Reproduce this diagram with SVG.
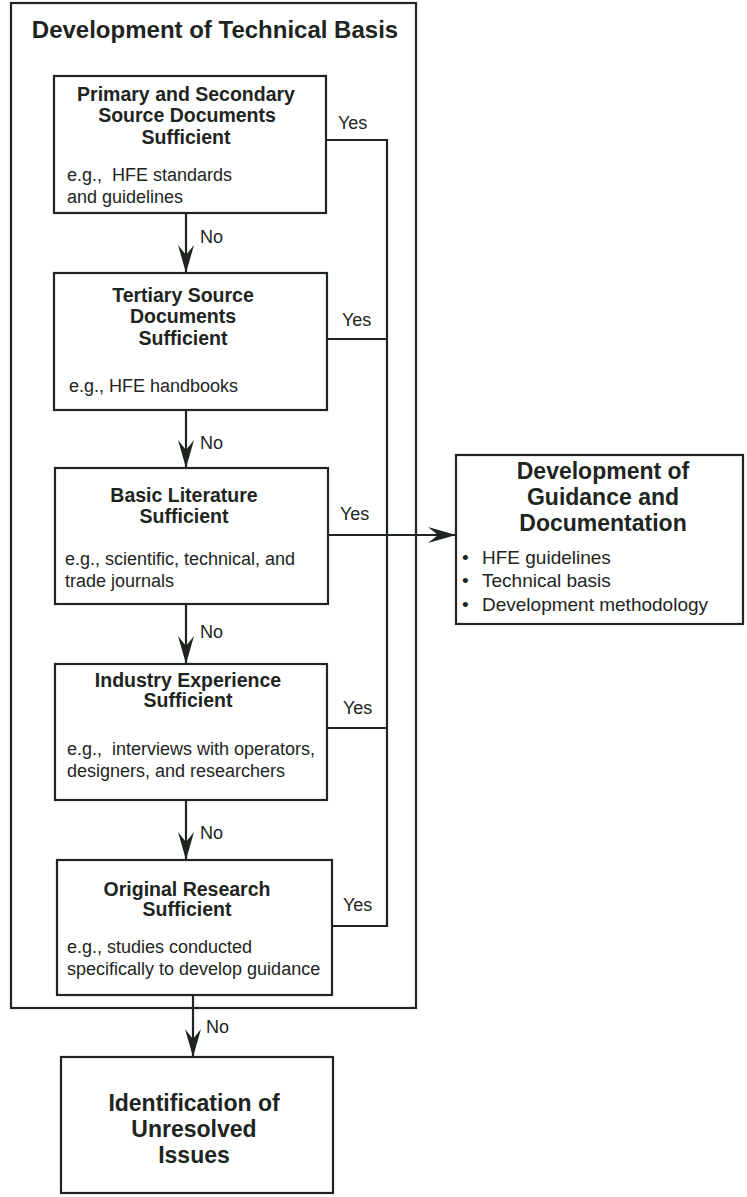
<svg xmlns="http://www.w3.org/2000/svg" width="747" height="1197" viewBox="0 0 747 1197">
<style>
  .box{fill:#fff;stroke:#1e241e;stroke-width:2.2}
  .outer{fill:none;stroke:#1e241e;stroke-width:2.2}
  .ln{fill:none;stroke:#1e241e;stroke-width:2.2}
  text{font-family:"Liberation Sans",Arial,Helvetica,sans-serif;fill:#1e241e}
  .t{font-size:19.5px;font-weight:bold;text-anchor:middle}
  .b{font-size:18px}
  .lbl{font-size:18px}
  .big{font-size:24px;font-weight:bold;text-anchor:middle}
  .big2{font-size:23px;font-weight:bold;text-anchor:middle}
  .bul{font-size:19px}
</style>
<defs>
  <marker id="ah" markerUnits="userSpaceOnUse" markerWidth="32" markerHeight="20" refX="30" refY="10" orient="auto">
    <path d="M30,10 L2,2 L12,10 L2,18 Z" fill="#1e241e"/>
  </marker>
</defs>
<rect id="bg" x="0" y="0" width="747" height="1197" fill="#fff"/>

<g id="technical-basis">
  <rect class="outer" x="11" y="3" width="405" height="1005"/>
  <text class="big" x="215" y="38">Development of Technical Basis</text>
</g>

<g id="connectors">
  <line class="ln" x1="186" y1="213" x2="186" y2="273" marker-end="url(#ah)"/>
  <line class="ln" x1="186" y1="410" x2="186" y2="468" marker-end="url(#ah)"/>
  <line class="ln" x1="186" y1="604" x2="186" y2="664" marker-end="url(#ah)"/>
  <line class="ln" x1="186" y1="800" x2="186" y2="860" marker-end="url(#ah)"/>
  <line class="ln" x1="193" y1="995" x2="193" y2="1057" marker-end="url(#ah)"/>
  <polyline class="ln" points="326,140 387,140 387,926 332,926"/>
  <line class="ln" x1="327" y1="339" x2="387" y2="339"/>
  <line class="ln" x1="327" y1="728" x2="387" y2="728"/>
  <line class="ln" x1="328" y1="535" x2="456" y2="535" marker-end="url(#ah)"/>
  <text class="lbl" x="200" y="243">No</text>
  <text class="lbl" x="200" y="449">No</text>
  <text class="lbl" x="200" y="638">No</text>
  <text class="lbl" x="200" y="839">No</text>
  <text class="lbl" x="206" y="1033">No</text>
  <text class="lbl" x="338" y="129">Yes</text>
  <text class="lbl" x="342" y="326">Yes</text>
  <text class="lbl" x="340" y="520">Yes</text>
  <text class="lbl" x="343" y="714">Yes</text>
  <text class="lbl" x="343" y="911">Yes</text>
</g>

<g id="primary-secondary">
  <rect class="box" x="54" y="76" width="272" height="137"/>
  <text class="t" x="186" y="101">Primary and Secondary</text>
  <text class="t" x="187" y="122">Source Documents</text>
  <text class="t" x="186" y="144">Sufficient</text>
  <text class="b" x="67" y="181" xml:space="preserve">e.g.,  HFE standards</text>
  <text class="b" x="67" y="203">and guidelines</text>
</g>

<g id="tertiary">
  <rect class="box" x="54" y="273" width="273" height="137"/>
  <text class="t" x="183" y="302">Tertiary Source</text>
  <text class="t" x="183" y="323">Documents</text>
  <text class="t" x="183" y="345">Sufficient</text>
  <text class="b" x="69" y="392">e.g., HFE handbooks</text>
</g>

<g id="basic-literature">
  <rect class="box" x="55" y="468" width="273" height="136"/>
  <text class="t" x="184" y="502">Basic Literature</text>
  <text class="t" x="184" y="523">Sufficient</text>
  <text class="b" x="65" y="565">e.g., scientific, technical, and</text>
  <text class="b" x="65" y="587">trade journals</text>
</g>

<g id="industry-experience">
  <rect class="box" x="55" y="664" width="272" height="136"/>
  <text class="t" x="188" y="687">Industry Experience</text>
  <text class="t" x="188" y="707">Sufficient</text>
  <text class="b" x="67" y="755" xml:space="preserve">e.g.,  interviews with operators,</text>
  <text class="b" x="67" y="777">designers, and researchers</text>
</g>

<g id="original-research">
  <rect class="box" x="57" y="860" width="275" height="135"/>
  <text class="t" x="187" y="896">Original Research</text>
  <text class="t" x="187" y="916">Sufficient</text>
  <text class="b" x="67" y="953">e.g., studies conducted</text>
  <text class="b" x="67" y="975">specifically to develop guidance</text>
</g>

<g id="guidance-documentation">
  <rect class="box" x="456" y="455" width="287" height="169"/>
  <text class="big2" x="603" y="479">Development of</text>
  <text class="big2" x="603" y="505">Guidance and</text>
  <text class="big2" x="603" y="531">Documentation</text>
  <text class="bul" x="462" y="564">•</text>
  <text class="bul" x="482" y="564">HFE guidelines</text>
  <text class="bul" x="462" y="587">•</text>
  <text class="bul" x="482" y="587">Technical basis</text>
  <text class="bul" x="462" y="611">•</text>
  <text class="bul" x="482" y="611">Development methodology</text>
</g>

<g id="unresolved-issues">
  <rect class="box" x="61" y="1057" width="272" height="136"/>
  <text class="big2" x="194" y="1111">Identification of</text>
  <text class="big2" x="194" y="1137">Unresolved</text>
  <text class="big2" x="194" y="1163">Issues</text>
</g>
</svg>
